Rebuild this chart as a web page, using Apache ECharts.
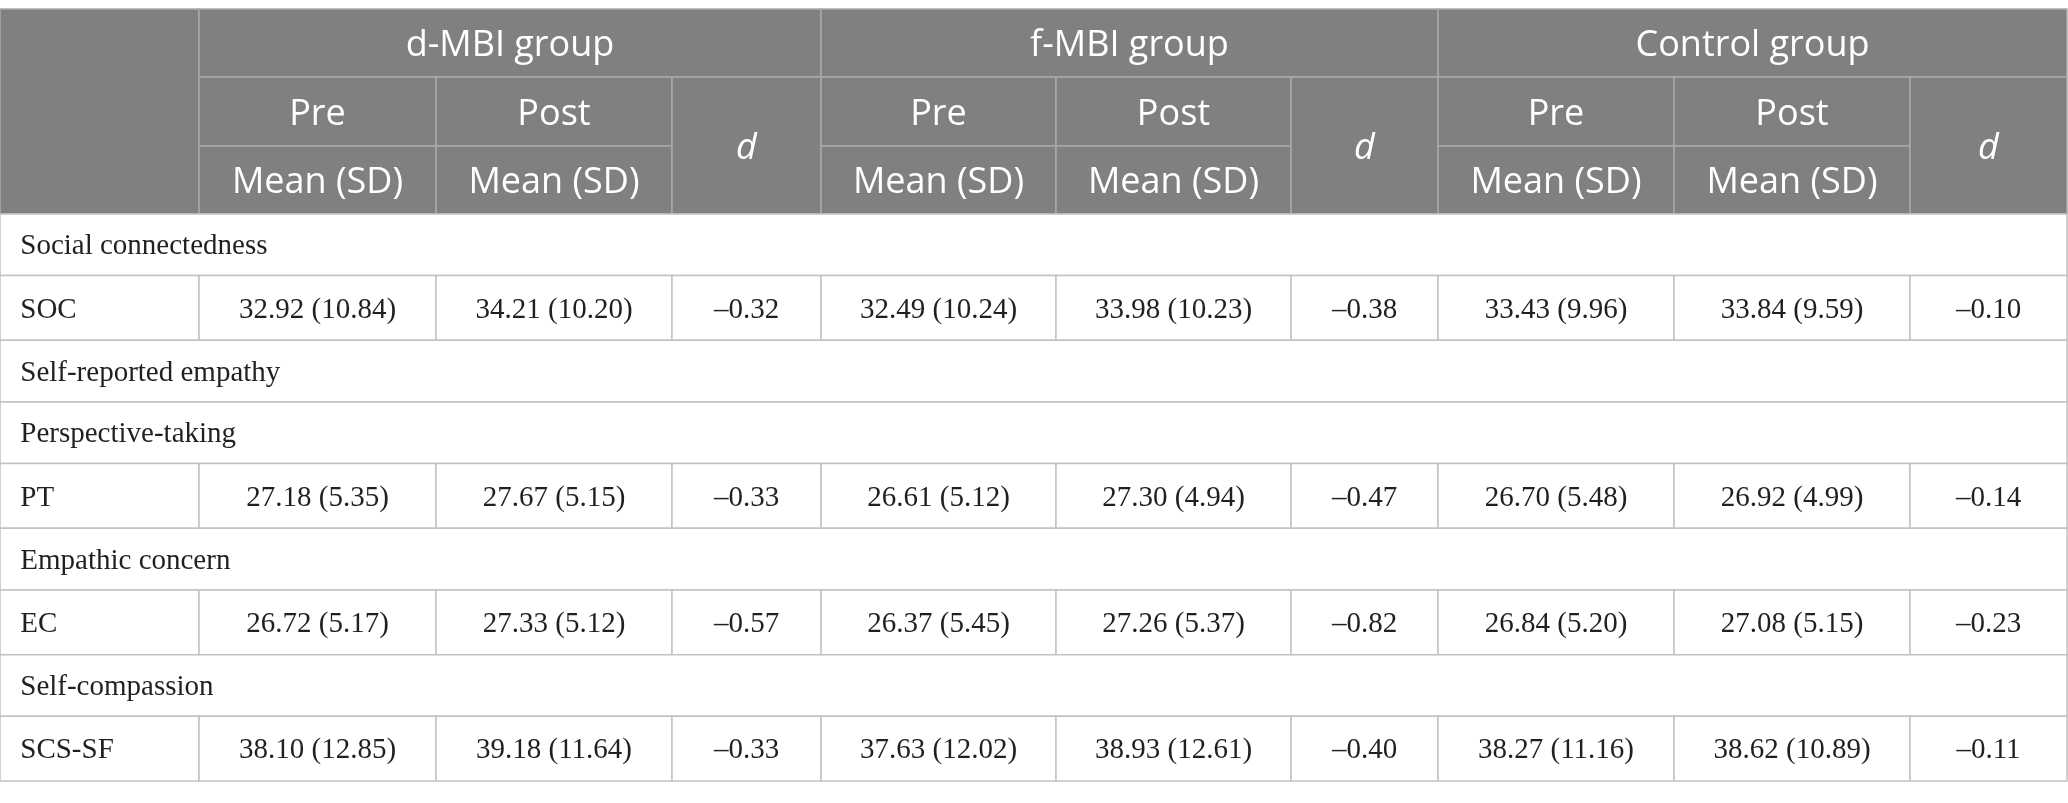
<!DOCTYPE html>
<html>
<head>
<meta charset="utf-8">
<script src="https://cdn.jsdelivr.net/npm/echarts@6/dist/echarts.min.js"></script>
<style>
  html, body { margin: 0; padding: 0; background: #fff; }
  #chart { width: 2068px; height: 803px; }
</style>
</head>
<body>
<div id="chart"></div>
<script>
const groups = ['d-MBI group', 'f-MBI group', 'Control group'];
const timeLabels = ['Pre', 'Post'];
const statLabel = 'Mean (SD)';
const effectLabel = 'd';
const bodyRows = ['Social connectedness', 'SOC', 'Self-reported empathy', 'Perspective-taking', 'PT',
  'Empathic concern', 'EC', 'Self-compassion', 'SCS-SF'];
const measures = ['SOC', 'PT', 'EC', 'SCS-SF'];

const dmbiPreMean = [32.92, 27.18, 26.72, 38.10];
const dmbiPreSD = [10.84, 5.35, 5.17, 12.85];
const dmbiPostMean = [34.21, 27.67, 27.33, 39.18];
const dmbiPostSD = [10.20, 5.15, 5.12, 11.64];
const dmbiD = [-0.32, -0.33, -0.57, -0.33];

const fmbiPreMean = [32.49, 26.61, 26.37, 37.63];
const fmbiPreSD = [10.24, 5.12, 5.45, 12.02];
const fmbiPostMean = [33.98, 27.30, 27.26, 38.93];
const fmbiPostSD = [10.23, 4.94, 5.37, 12.61];
const fmbiD = [-0.38, -0.47, -0.82, -0.40];

const ctrlPreMean = [33.43, 26.70, 26.84, 38.27];
const ctrlPreSD = [9.96, 5.48, 5.20, 11.16];
const ctrlPostMean = [33.84, 26.92, 27.08, 38.62];
const ctrlPostSD = [9.59, 4.99, 5.15, 10.89];
const ctrlD = [-0.10, -0.14, -0.23, -0.11];

// layout (pixels on the hidden value axes)
const colEdges = [0, 199, 436, 672, 821, 1056, 1291, 1438, 1674, 1910, 2067];
const headEdges = [9, 77, 146, 214];
const sectionH = 61.6;
const measureH = 64.75;

const groupData = [
  [dmbiPreMean, dmbiPreSD, dmbiPostMean, dmbiPostSD, dmbiD],
  [fmbiPreMean, fmbiPreSD, fmbiPostMean, fmbiPostSD, fmbiD],
  [ctrlPreMean, ctrlPreSD, ctrlPostMean, ctrlPostSD, ctrlD]
];

function meanSd(m, sd) {
  return m.toFixed(2) + ' (' + sd.toFixed(2) + ')';
}
function effect(v) {
  return (v < 0 ? '\u2013' : '') + Math.abs(v).toFixed(2);
}

const cells = [];
function addCell(x0, x1, y0, y1, text, kind) {
  cells.push({ x0, x1, y0, y1, text, kind });
}

// header
const [h0, h1, h2, h3] = headEdges;
addCell(colEdges[0], colEdges[1], h0, h3, '', 'head');
groups.forEach((g, gi) => {
  const c = 1 + gi * 3;
  addCell(colEdges[c], colEdges[c + 3], h0, h1, g, 'head');
  timeLabels.forEach((t, ti) => {
    addCell(colEdges[c + ti], colEdges[c + ti + 1], h1, h2, t, 'head');
    addCell(colEdges[c + ti], colEdges[c + ti + 1], h2, h3, statLabel, 'head');
  });
  addCell(colEdges[c + 2], colEdges[c + 3], h1, h3, effectLabel, 'headItalic');
});

// body
let y = h3;
bodyRows.forEach((label) => {
  const mi = measures.indexOf(label);
  if (mi < 0) {
    addCell(colEdges[0], colEdges[colEdges.length - 1], y, y + sectionH, label, 'section');
    y += sectionH;
    return;
  }
  const y1 = y + measureH;
  addCell(colEdges[0], colEdges[1], y, y1, label, 'section');
  groupData.forEach((gd, gi) => {
    const c = 1 + gi * 3;
    addCell(colEdges[c], colEdges[c + 1], y, y1, meanSd(gd[0][mi], gd[1][mi]), 'value');
    addCell(colEdges[c + 1], colEdges[c + 2], y, y1, meanSd(gd[2][mi], gd[3][mi]), 'value');
    addCell(colEdges[c + 2], colEdges[c + 3], y, y1, effect(gd[4][mi]), 'value');
  });
  y = y1;
});

const styles = {
  head: { fill: '#7f807f', stroke: '#a9a9a9', color: '#fff', font: '36px "Open Sans"', dy: 3 },
  headItalic: { fill: '#7f807f', stroke: '#a9a9a9', color: '#fff', font: 'italic 36px "Open Sans"', dy: 3 },
  section: { fill: '#fff', stroke: '#c2c2c2', color: '#231f20', font: '29px "Liberation Serif"', dy: 2 },
  value: { fill: '#fff', stroke: '#c2c2c2', color: '#231f20', font: '29px "Liberation Serif"', dy: 2 }
};

const chart = echarts.init(document.getElementById('chart'));
chart.setOption({
  animation: false,
  grid: { left: 0, right: 0, top: 0, bottom: 0 },
  xAxis: { type: 'value', min: 0, max: 2068, show: false },
  yAxis: { type: 'value', min: 0, max: 803, inverse: true, show: false },
  series: [{
    type: 'custom',
    silent: true,
    clip: false,
    data: cells.map((c, i) => [c.x0, c.y0, c.x1, c.y1, i]),
    renderItem: function (params, api) {
      const c = cells[api.value(4)];
      const s = styles[c.kind];
      const p0 = api.coord([api.value(0), api.value(1)]);
      const p1 = api.coord([api.value(2), api.value(3)]);
      return {
        type: 'rect',
        shape: { x: p0[0], y: p0[1], width: p1[0] - p0[0], height: p1[1] - p0[1] },
        style: { fill: s.fill, stroke: s.stroke, lineWidth: 1.5 },
        textContent: { style: { text: c.text, fill: s.color, font: s.font } },
        textConfig: {
          position: c.kind === 'section' ? 'insideLeft' : 'inside',
          distance: 21,
          offset: [0, s.dy]
        }
      };
    }
  }]
});
</script>
</body>
</html>
